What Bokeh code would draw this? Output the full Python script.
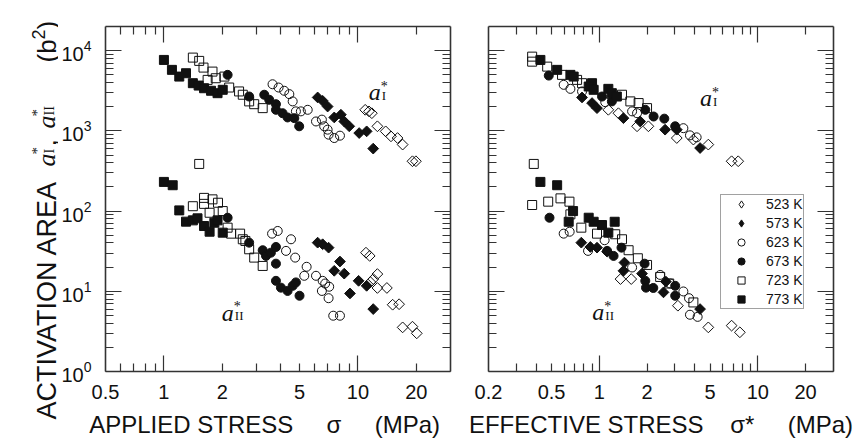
import math
from bokeh.plotting import figure
from bokeh.models import (LogAxis, FixedTicker, CustomJSTickFormatter, LogTickFormatter,
                          Label, Legend, LegendItem)
from bokeh.layouts import row
from bokeh.embed import file_html
from bokeh.resources import INLINE

# ---------------- data ----------------
temps = [523, 573, 623, 673, 723, 773]
legend_labels = ["523 K", "573 K", "623 K", "673 K", "723 K", "773 K"]

# Left panel: applied stress sigma (MPa) vs activation area (b^2)
A523_x_I = [10.9, 11.4, 11.8, 12.6, 13.9, 14.8, 16.0, 17.0, 19.1, 19.9]
A523_y_I = [1830, 1750, 1660, 1140, 986, 854, 814, 674, 418, 418]
A523_x_II = [11.0, 11.5, 12.6, 12.0, 11.6, 12.6, 14.1, 15.1, 16.3, 17.0, 19.1, 20.1]
A523_y_II = [30.3, 27.6, 16.4, 14.2, 13.0, 11.0, 11.0, 6.8, 6.9, 3.55, 3.62, 2.99]

A573_x_I = [6.20, 6.58, 6.98, 7.55, 8.17, 8.50, 9.02, 10.15, 11.09, 11.99]
A573_y_I = [2610, 2370, 2010, 1470, 1590, 1310, 1140, 939, 986, 601]
A573_x_II = [6.20, 6.58, 7.06, 8.08, 7.55, 8.50, 10.08, 11.09, 9.10, 11.99]
A573_y_II = [40.4, 38.6, 35.0, 23.5, 18.0, 16.6, 13.5, 11.7, 9.4, 6.0]

A623_x_I = [3.63, 3.90, 4.17, 4.43, 4.61, 4.79, 5.08, 5.51, 6.08, 6.52, 6.70, 6.98, 7.06, 7.55, 8.08]
A623_y_I = [3810, 3470, 3160, 2870, 2330, 1750, 1750, 1830, 1310, 1380, 1140, 1035, 897, 814, 871]
A623_x_II = [3.61, 3.86, 4.26, 4.52, 4.75, 5.44, 5.29, 6.08, 6.58, 6.78, 7.11, 6.52, 7.06, 7.46, 8.08]
A623_y_II = [52.3, 56.5, 31.9, 44.5, 26.3, 20.2, 15.6, 15.6, 13.5, 12.5, 11.4, 10.1, 8.2, 4.96, 4.96]

A673_x_I = [2.13, 2.75, 3.29, 3.49, 3.78, 3.78, 4.09, 4.34, 4.70, 4.98]
A673_y_I = [4990, 2680, 2820, 2440, 2150, 1830, 1660, 1470, 1440, 1140]
A673_x_II = [2.13, 2.75, 3.23, 3.36, 3.56, 3.78, 3.78, 3.78, 4.01, 4.34, 4.61, 4.79, 5.0]
A673_y_II = [82.6, 40.4, 32.5, 27.6, 30.3, 35.7, 22.1, 13.5, 11.1, 10.1, 11.7, 12.9, 8.8]

A723_x_I = [1.41, 1.52, 1.60, 1.78, 1.68, 1.85, 2.05, 2.17, 2.44, 2.55, 2.75, 2.92, 3.23]
A723_y_I = [8190, 7450, 6150, 5480, 4320, 4530, 4750, 3470, 3100, 2820, 2330, 2150, 1920]
A723_x_II = [1.52, 1.41, 1.61, 1.78, 1.90, 1.61, 1.72, 2.01, 2.13, 2.22, 2.47, 2.55, 2.63, 2.75, 2.92, 3.23]
A723_y_II = [387, 115, 146, 140, 127, 123, 95.3, 100, 62.1, 52.3, 52.3, 44.5, 42.4, 33.4, 26.3, 20.7]

A773_x_I = [1.0, 1.10, 1.20, 1.30, 1.41, 1.51, 1.61, 1.75, 1.89, 2.01]
A773_y_I = [7660, 5760, 4750, 5230, 3930, 3670, 3400, 3160, 2950, 3250]
A773_x_II = [1.0, 1.11, 1.20, 1.30, 1.41, 1.49, 1.61, 1.72, 1.82, 1.89, 2.01]
A773_y_II = [231, 210, 102, 73.8, 76.6, 81.2, 65.1, 55.3, 71.6, 76.6, 53.8]

# Right panel: effective stress sigma* (MPa) vs activation area (b^2)
E523_x_I = [1.14, 1.32, 1.73, 2.04, 3.08, 3.92, 4.87, 6.83, 7.52]
E523_y_I = [1830, 1660, 1140, 1140, 814, 778, 674, 418, 418]
E523_x_II = [1.36, 1.59, 3.13, 4.87, 6.83, 7.70]
E523_y_II = [14.2, 14.2, 6.61, 3.55, 3.73, 3.08]

E573_x_I = [0.778, 0.900, 0.967, 1.42, 1.81, 2.60, 3.08, 4.32]
E573_y_I = [2610, 2220, 1920, 1440, 1310, 1035, 1035, 611]
E573_x_II = [0.770, 0.878, 0.967, 1.12, 1.44, 1.42, 1.86, 2.54, 2.63, 4.32]
E573_y_II = [40.4, 35.7, 35.0, 31.2, 22.8, 18.0, 16.6, 9.7, 13.2, 6.0]

E623_x_I = [0.596, 0.657, 0.778, 1.09, 1.61, 1.73, 3.39, 3.73, 4.11]
E623_y_I = [3750, 3340, 3100, 2280, 1750, 1660, 1080, 879, 830]
E623_x_II = [0.596, 0.650, 0.849, 1.08, 1.61, 2.42, 2.80, 3.39, 3.68, 3.73, 4.17]
E623_y_II = [52.3, 55.3, 31.9, 43.3, 19.8, 16.0, 12.5, 9.95, 8.2, 5.1, 4.8]

E673_x_I = [0.480, 1.04, 1.20, 1.95, 2.20, 2.57, 3.01]
E673_y_I = [4890, 2680, 2330, 1830, 1510, 1420, 1140]
E673_x_II = [0.485, 1.12, 1.23, 1.38, 1.93, 1.95, 1.97, 2.19, 3.01, 3.01]
E673_y_II = [82.6, 31.9, 27.6, 35.0, 22.1, 13.5, 11.1, 11.0, 8.8, 11.7]

E723_x_I = [0.377, 0.377, 0.469, 0.582, 0.724, 0.778, 1.39, 1.57, 1.77, 2.0]
E723_y_I = [8420, 7290, 6320, 4990, 4320, 3930, 2820, 2330, 2220, 1920]
E723_x_II = [0.386, 0.377, 0.476, 0.569, 0.648, 0.657, 0.770, 0.967, 1.26, 1.39, 1.53, 1.75, 2.0, 2.42, 2.76, 3.92]
E723_y_II = [387, 119, 131, 144, 131, 91.0, 62.1, 52.3, 51.4, 44.5, 32.5, 25.8, 21.3, 15.1, 12.5, 7.26]

E773_x_I = [0.425, 0.542, 0.657, 0.689, 0.900, 0.857, 0.921, 1.14, 1.20, 1.29]
E773_y_I = [7660, 5760, 4990, 4750, 3930, 3570, 3250, 3340, 2950, 2680]
E773_x_II = [0.425, 0.542, 0.683, 0.641, 0.857, 0.921, 1.04, 1.14, 1.25]
E773_y_II = [231, 210, 100, 73.6, 82.6, 73.6, 67.0, 53.8, 73.6]

# axis ticks
y_range = (1, 2e4)
y_major = [1, 10, 100, 1000, 10000]
y_minor = [k * 10 ** d for d in range(4) for k in range(2, 10)]
left_x_range = (0.5, 30)
left_x_labels = [0.5, 1, 2, 5, 10, 20]
left_x_minor = [0.6, 0.7, 0.8, 0.9, 2, 3, 4, 5, 6, 7, 8, 9, 20]
right_x_range = (0.2, 30)
right_x_labels = [0.2, 0.5, 1, 2, 5, 10, 20]
right_x_minor = [0.3, 0.4, 0.5, 0.6, 0.7, 0.8, 0.9, 2, 3, 4, 5, 6, 7, 8, 9, 20]
x_major = [1, 10]

# ---------------- styles ----------------
INK = "#111111"
FRAME = "#333333"
SANS = "Liberation Sans"
SERIF = "Liberation Serif"
STYLES = {
    523: dict(marker="square", angle=math.pi / 4, size=7.6, fill=None),
    573: dict(marker="square", angle=math.pi / 4, size=7.6, fill=INK),
    623: dict(marker="circle", angle=0.0, size=9, fill=None),
    673: dict(marker="circle", angle=0.0, size=9, fill=INK),
    723: dict(marker="square", angle=0.0, size=9, fill=None),
    773: dict(marker="square", angle=0.0, size=9, fill=INK),
}

FRAME_W = 345
FRAME_H = 345
TOP = 26
BOTTOM = 72
TOTAL_H = TOP + FRAME_H + BOTTOM
TITLE_W = 58


def tick_axis(ax, major, minor):
    ax.ticker = FixedTicker(ticks=major, minor_ticks=minor)
    ax.major_tick_in = 16
    ax.major_tick_out = 0
    ax.minor_tick_in = 8
    ax.minor_tick_out = 0
    ax.major_tick_line_color = FRAME
    ax.minor_tick_line_color = FRAME
    ax.major_tick_line_width = 1.2
    ax.minor_tick_line_width = 1.2
    ax.axis_line_color = FRAME
    ax.axis_line_width = 1.6
    ax.major_label_text_font_size = "1px"
    ax.major_label_text_alpha = 0.0
    ax.major_label_standoff = 0


def make_panel(xr, xlabels, xminor, xtitle, show_ylabels, bl, br):
    p = figure(x_axis_type="log", y_axis_type="log", x_range=xr, y_range=y_range,
               frame_width=FRAME_W, frame_height=FRAME_H,
               min_border_left=bl, min_border_right=br,
               min_border_top=TOP, min_border_bottom=BOTTOM,
               toolbar_location=None, output_backend="svg")
    p.grid.visible = False
    p.outline_line_color = None
    p.background_fill_color = "white"
    p.border_fill_color = "white"

    # bottom: ticks only on the frame edge
    tick_axis(p.xaxis[0], x_major, xminor)
    # bottom: labels + title
    lab = LogAxis(ticker=FixedTicker(ticks=xlabels, minor_ticks=[]),
                  formatter=CustomJSTickFormatter(code="return tick.toString();"))
    lab.major_tick_in = 0
    lab.major_tick_out = 0
    lab.minor_tick_in = 0
    lab.minor_tick_out = 0
    lab.axis_line_color = None
    lab.major_tick_line_color = None
    lab.major_label_standoff = 13
    lab.major_label_text_font = SANS
    lab.major_label_text_font_size = "20px"
    lab.major_label_text_color = INK
    lab.axis_label = xtitle
    lab.axis_label_text_font = SANS
    lab.axis_label_text_font_size = "24px"
    lab.axis_label_text_font_style = "normal"
    lab.axis_label_text_color = INK
    lab.axis_label_standoff = 9
    p.add_layout(lab, "below")

    top = LogAxis()
    tick_axis(top, x_major, xminor)
    p.add_layout(top, "above")

    yl = p.yaxis[0]
    tick_axis(yl, y_major, y_minor)
    if show_ylabels:
        yl.formatter = LogTickFormatter()
        yl.major_label_text_font = SANS
        yl.major_label_text_font_size = "20px"
        yl.major_label_text_alpha = 1.0
        yl.major_label_text_color = INK
        yl.major_label_standoff = 14

    yr = LogAxis()
    tick_axis(yr, y_major, y_minor)
    p.add_layout(yr, "right")
    return p


def scatter_T(p, T, xs, ys):
    st = STYLES[T]
    return p.scatter(xs, ys, marker=st["marker"], size=st["size"], angle=st["angle"],
                     fill_color=st["fill"], line_color=INK, line_width=1.0)


def astar(p, x, y, sub):
    p.add_layout(Label(x=x, y=y, x_offset=-3, y_offset=5, text="a", text_font=SERIF,
                       text_font_style="italic", text_font_size="24px", text_color=INK,
                       text_align="left", text_baseline="alphabetic"))
    p.add_layout(Label(x=x, y=y, x_offset=10, y_offset=2, text=sub, text_font=SERIF,
                       text_font_size="13px", text_color=INK, text_align="left",
                       text_baseline="alphabetic"))
    p.add_layout(Label(x=x, y=y, x_offset=9, y_offset=11, text="*", text_font=SERIF,
                       text_font_size="14px", text_color=INK, text_align="left",
                       text_baseline="alphabetic"))


NB = "\u00a0"
p1 = make_panel(left_x_range, left_x_labels, left_x_minor,
                "APPLIED STRESS" + NB * 5 + "\u03c3" + NB * 5 + "(MPa)" + NB * 4, True, 42, 19)
p2 = make_panel(right_x_range, right_x_labels, right_x_minor,
                "EFFECTIVE STRESS" + NB * 4 + "\u03c3*" + NB * 5 + "(MPa)", False, 19, 25)

left_data = {
    523: (A523_x_I + A523_x_II, A523_y_I + A523_y_II),
    573: (A573_x_I + A573_x_II, A573_y_I + A573_y_II),
    623: (A623_x_I + A623_x_II, A623_y_I + A623_y_II),
    673: (A673_x_I + A673_x_II, A673_y_I + A673_y_II),
    723: (A723_x_I + A723_x_II, A723_y_I + A723_y_II),
    773: (A773_x_I + A773_x_II, A773_y_I + A773_y_II),
}
right_data = {
    523: (E523_x_I + E523_x_II, E523_y_I + E523_y_II),
    573: (E573_x_I + E573_x_II, E573_y_I + E573_y_II),
    623: (E623_x_I + E623_x_II, E623_y_I + E623_y_II),
    673: (E673_x_I + E673_x_II, E673_y_I + E673_y_II),
    723: (E723_x_I + E723_x_II, E723_y_I + E723_y_II),
    773: (E773_x_I + E773_x_II, E773_y_I + E773_y_II),
}

for T in temps:
    scatter_T(p1, T, *left_data[T])
items = []
for T, lbl in zip(temps, legend_labels):
    r = scatter_T(p2, T, *right_data[T])
    st = STYLES[T]
    if st["angle"] != 0.0:
        # legend glyphs are never rotated: use a hidden diamond twin for the key
        r_key = p2.scatter(*right_data[T], marker="diamond", size=st["size"],
                           fill_color=st["fill"], line_color=INK, line_width=1.0,
                           visible=False)
        items.append(LegendItem(label=lbl, renderers=[r_key]))
    else:
        items.append(LegendItem(label=lbl, renderers=[r]))

legend = Legend(items=items, location=(232, 62), orientation="vertical",
                glyph_height=18, glyph_width=40, label_height=18, spacing=1,
                padding=0, margin=0, label_standoff=5,
                label_text_font=SANS, label_text_font_size="14px", label_text_color=INK,
                border_line_color="#444444", border_line_width=1,
                background_fill_color="white", background_fill_alpha=1.0)
p2.add_layout(legend, "center")

# curve labels a*_I / a*_II
astar(p1, 11.8, 2610, "I")
astar(p1, 2.06, 4.69, "II")
astar(p2, 4.51, 2215, "I")
astar(p2, 0.944, 4.73, "II")

# rotated y title, built from pieces in a narrow text-only figure on the left
p0 = figure(width=TITLE_W, height=TOTAL_H, min_border=0, toolbar_location=None,
            output_backend="svg", x_axis_location=None, y_axis_location=None)
p0.frame_align = False
p0.grid.visible = False
p0.outline_line_color = None
p0.background_fill_color = "white"
p0.border_fill_color = "white"

BASE_X = 46


def ypiece(text, y_page, dx, font, size, style="normal"):
    p0.add_layout(Label(x=BASE_X + dx, y=TOTAL_H - y_page,
                        x_units="screen", y_units="screen", text=text, angle=math.pi / 2,
                        text_align="left", text_baseline="alphabetic", text_font=font,
                        text_font_size=size, text_font_style=style, text_color=INK))


ypiece("ACTIVATION AREA", 419, 0, SANS, "27px")
ypiece("a", 166, 0, SERIF, "26px", "italic")
ypiece("*", 154, -10, SERIF, "15px")
ypiece("I", 153, 3, SERIF, "14px")
ypiece(",", 146, 0, SANS, "26px")
ypiece("a", 128, 0, SERIF, "26px", "italic")
ypiece("*", 116, -10, SERIF, "15px")
ypiece("II", 115, 3, SERIF, "14px")
ypiece("(b", 62, 0, SANS, "26px")
ypiece("2", 39, -8, SANS, "18px")
ypiece(")", 29, 0, SANS, "26px")

layout = row(p0, p1, p2)
open("out.html", "w").write(file_html(layout, INLINE))
